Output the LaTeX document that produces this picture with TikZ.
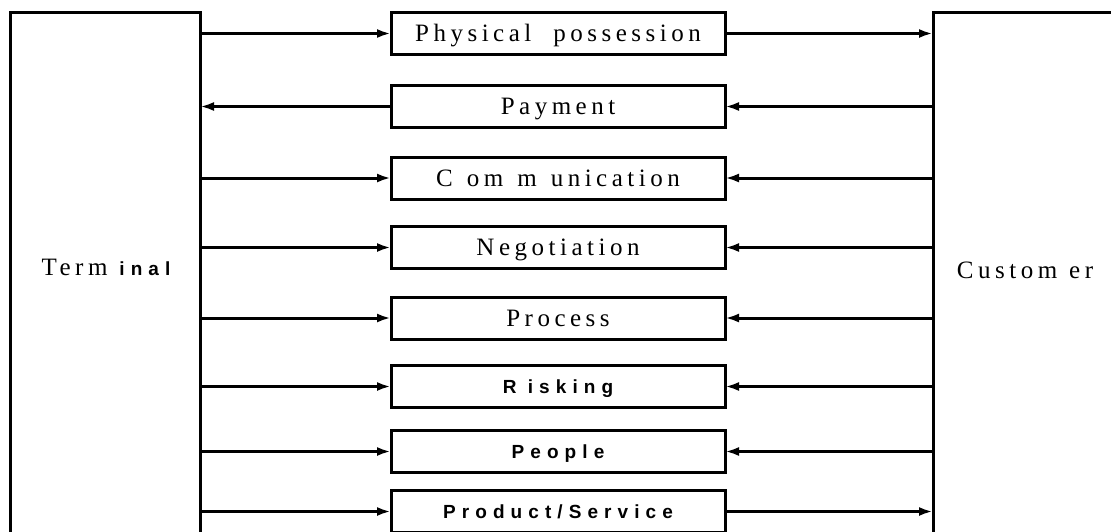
\documentclass[tikz,border=0pt]{standalone}
\usepackage{fontspec}
\usepackage{tikz}
\usetikzlibrary{arrows.meta}

\newfontfamily\serifesp[LetterSpace=18]{Liberation Serif}
\newfontfamily\negresp[LetterSpace=32]{Liberation Sans}

\begin{document}
\begin{tikzpicture}[x=1pt, y=-1pt]
\tikzset{ >={Latex[length=14pt,width=9pt]}, inner sep=0pt, outer sep=0pt,
  caixa/.style={draw, line width=3pt, minimum width=334pt, minimum height=42pt,
    text height=16.5pt, text depth=0pt, font=\serifesp\fontsize{25}{29}\selectfont},
  caixan/.style={caixa, text height=13.6pt, font=\negresp\bfseries\fontsize{19}{23}\selectfont},
  lado/.style={draw, line width=3pt},
  seta/.style={->, line width=3pt},
}

\useasboundingbox (0,0) rectangle (1111,531);
\clip (0,0) rectangle (1111,531);

%\draw [lightgray, dashed](0,0) grid (1111,531);

% Terminal e Customer
\node [lado, minimum width=190pt, minimum height=560pt] (T) at (105,292) {};
\node [lado, minimum width=220pt, minimum height=560pt] (C) at (1043,292) {};
\node [anchor=base] (TL) at (106,275) {{\serifesp\fontsize{25}{29}\selectfont Term}\hspace{12pt}{\negresp\bfseries\fontsize{19}{23}\selectfont inal}};
\node [anchor=base] (CL) at (1025,278) {\serifesp\fontsize{25}{29}\selectfont Custom\hspace{12pt}er};

% caixas do meio
\node [caixa]  (PP) at (558,33.5)  {Physical\hspace{22pt}possession};
\node [caixa]  (PG) at (558,106.5) {Payment};
\node [caixa]  (CM) at (558,178)   {C\hspace{14pt}om\hspace{14pt}m\hspace{14pt}unication};
\node [caixa]  (NG) at (558,247.5) {Negotiation};
\node [caixa]  (PR) at (558,318)   {Process};
\node [caixan] (RK) at (558,386.5) {R isking};
\node [caixan] (PE) at (558,451.5) {People};
\node [caixan] (PS) at (558,511.5) {Product/Service};

% lado do terminal
\draw [seta] (T.east |- PP.west) -- (PP.west);
\draw [seta] (PG.west) -- (T.east |- PG.west);
\draw [seta] (T.east |- CM.west) -- (CM.west);
\draw [seta] (T.east |- NG.west) -- (NG.west);
\draw [seta] (T.east |- PR.west) -- (PR.west);
\draw [seta] (T.east |- RK.west) -- (RK.west);
\draw [seta] (T.east |- PE.west) -- (PE.west);
\draw [seta] (T.east |- PS.west) -- (PS.west);

% lado do customer
\draw [seta] (PP.east) -- (C.west |- PP.east);
\draw [seta] (C.west |- PG.east) -- (PG.east);
\draw [seta] (C.west |- CM.east) -- (CM.east);
\draw [seta] (C.west |- NG.east) -- (NG.east);
\draw [seta] (C.west |- PR.east) -- (PR.east);
\draw [seta] (C.west |- RK.east) -- (RK.east);
\draw [seta] (C.west |- PE.east) -- (PE.east);
\draw [seta] (PS.east) -- (C.west |- PS.east);

\end{tikzpicture}
\end{document}
